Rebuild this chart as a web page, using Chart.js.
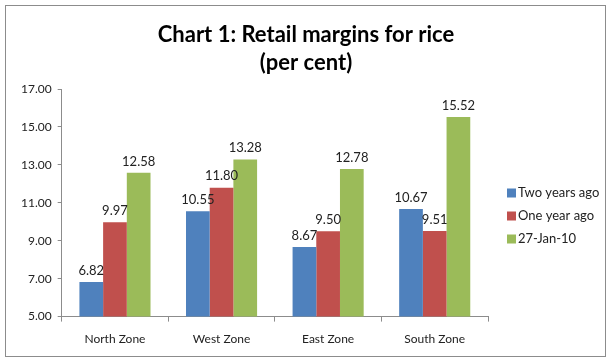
<!DOCTYPE html>
<html lang="en">
<head>
  <meta charset="UTF-8" />
  <title>Chart 1: Retail margins for rice</title>
  <script src="https://cdn.jsdelivr.net/npm/chart.js"></script>
  <style>
    body { margin: 0; background: #fff; }
    #wrap { width: 612px; height: 363px; position: relative; }
  </style>
</head>
<body>
  <div id="wrap"><canvas id="barChart"></canvas></div>

  <script>
    const zones = ["North Zone", "West Zone", "East Zone", "South Zone"];
    const twoYearsAgo = [6.82, 10.55, 8.67, 10.67];
    const oneYearAgo = [9.97, 11.80, 9.50, 9.51];
    const jan2010 = [12.58, 13.28, 12.78, 15.52];
    const seriesNames = ["Two years ago", "One year ago", "27-Jan-10"];
    const titleLines = ["Chart 1: Retail margins for rice", "(per cent)"];

    const FONT = 'Lato, "Open Sans", sans-serif';

    // outer frame like the excel chart area
    const framePlugin = {
      id: 'frame',
      afterDraw(chart) {
        const { ctx } = chart;
        ctx.save();
        ctx.strokeStyle = '#8c8c8c';
        ctx.lineWidth = 1;
        ctx.strokeRect(5.5, 5.5, 600, 351);
        ctx.restore();
      }
    };

    // title centred on the whole chart, not just the plot + padding
    const centreTitle = {
      id: 'centreTitle',
      afterDraw(chart) {
        const { ctx } = chart;
        ctx.save();
        ctx.fillStyle = '#000';
        ctx.font = 'bold 22px ' + FONT;
        ctx.textAlign = 'center';
        ctx.textBaseline = 'alphabetic';
        titleLines.forEach((t, i) => ctx.fillText(t, chart.width / 2, 42 + i * 28));
        ctx.restore();
      }
    };

    // excel style legend sitting right of the plot
    const sideLegend = {
      id: 'sideLegend',
      afterDraw(chart) {
        const { ctx } = chart;
        const x = chart.chartArea.right + 19;
        let y = 193;
        ctx.save();
        ctx.font = '13px ' + FONT;
        ctx.textBaseline = 'middle';
        chart.data.datasets.forEach(ds => {
          ctx.fillStyle = ds.backgroundColor;
          ctx.fillRect(x, y - 4.5, 9, 9);
          ctx.fillStyle = '#222';
          ctx.fillText(ds.label, x + 11, y);
          y += 23;
        });
        ctx.restore();
      }
    };

    const valueLabels = {
      id: 'valueLabels',
      afterDatasetsDraw(chart) {
        const { ctx } = chart;
        ctx.save();
        ctx.fillStyle = '#222';
        ctx.font = '13px ' + FONT;
        ctx.textAlign = 'center';
        ctx.textBaseline = 'bottom';
        chart.data.datasets.forEach((ds, i) => {
          const meta = chart.getDatasetMeta(i);
          ds.data.forEach((v, j) => {
            const bar = meta.data[j];
            ctx.fillText(v.toFixed(2), bar.x, bar.y - 5);
          });
        });
        ctx.restore();
      }
    };

    new Chart(document.getElementById("barChart"), {
      type: "bar",
      data: {
        labels: zones,
        datasets: [
          { label: seriesNames[0], data: twoYearsAgo, backgroundColor: '#4f81bd' },
          { label: seriesNames[1], data: oneYearAgo, backgroundColor: '#c0504d' },
          { label: seriesNames[2], data: jan2010, backgroundColor: '#9bbb59' }
        ]
      },
      options: {
        responsive: true,
        maintainAspectRatio: false,
        animation: false,
        datasets: {
          bar: { barPercentage: 1, categoryPercentage: 0.667 }
        },
        layout: { padding: { top: 89, left: 15, right: 124, bottom: 7 } },
        scales: {
          y: {
            min: 5,
            max: 17,
            ticks: {
              stepSize: 2,
              color: '#222',
              padding: 6,
              font: { size: 12, family: FONT },
              callback: v => v.toFixed(2)
            },
            grid: { drawOnChartArea: false, tickLength: 4, color: '#8c8c8c' },
            border: { color: '#8c8c8c' }
          },
          x: {
            ticks: {
              color: '#222',
              font: { size: 12, family: FONT },
              padding: 10
            },
            grid: { offset: true, drawOnChartArea: false, tickLength: 5, color: '#8c8c8c' },
            border: { color: '#8c8c8c' }
          }
        },
        plugins: {
          title: { display: false },
          legend: { display: false },
          tooltip: { enabled: false }
        }
      },
      plugins: [valueLabels, sideLegend, centreTitle, framePlugin]
    });
  </script>
</body>
</html>
